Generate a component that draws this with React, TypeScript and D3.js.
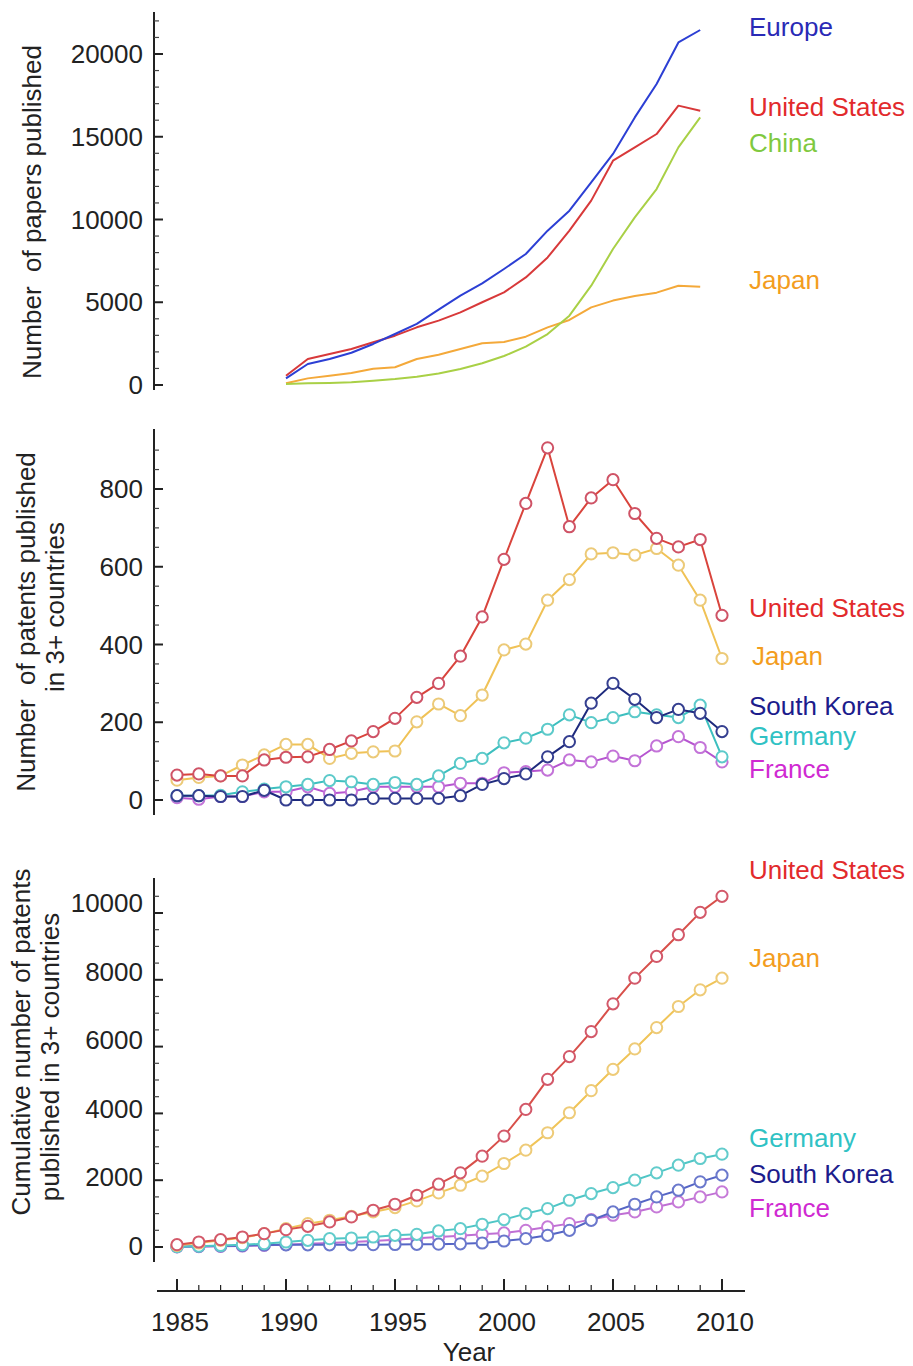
import React from 'react';
import * as d3 from 'd3';

// ---------- data ----------
const paperYears = [1990, 1991, 1992, 1993, 1994, 1995, 1996, 1997, 1998, 1999, 2000, 2001, 2002, 2003, 2004, 2005, 2006, 2007, 2008, 2009];
const papersEurope = [400, 1270, 1570, 1950, 2480, 3080, 3690, 4550, 5400, 6140, 7010, 7915, 9325, 10530, 12245, 13960, 16170, 18185, 20700, 21450];
const papersUS = [560, 1570, 1870, 2175, 2580, 2980, 3485, 3890, 4390, 5000, 5600, 6500, 7710, 9325, 11140, 13555, 14360, 15165, 16880, 16575];
const papersChina = [60, 100, 120, 160, 260, 360, 500, 700, 970, 1310, 1750, 2315, 3080, 4190, 6000, 8215, 10130, 11840, 14360, 16170];
const papersJapan = [100, 400, 560, 725, 985, 1070, 1570, 1830, 2175, 2520, 2600, 2920, 3485, 3930, 4690, 5100, 5380, 5580, 6000, 5940];

const patentYears = [1985, 1986, 1987, 1988, 1989, 1990, 1991, 1992, 1993, 1994, 1995, 1996, 1997, 1998, 1999, 2000, 2001, 2002, 2003, 2004, 2005, 2006, 2007, 2008, 2009, 2010];
const patUS = [64, 67, 62, 62, 103, 110, 111, 130, 152, 176, 210, 264, 300, 370, 471, 619, 763, 906, 703, 777, 824, 737, 673, 651, 670, 475];
const patJapan = [51, 58, 62, 90, 116, 143, 143, 107, 120, 124, 126, 201, 247, 217, 270, 386, 401, 514, 567, 633, 636, 630, 647, 604, 514, 364];
const patGermany = [11, 11, 12, 21, 28, 34, 40, 50, 47, 40, 45, 40, 62, 94, 107, 147, 159, 182, 219, 199, 212, 227, 219, 212, 244, 111];
const patKorea = [11, 11, 9, 9, 25, 0, 0, 0, 0, 4, 4, 4, 4, 11, 40, 55, 67, 111, 150, 249, 300, 259, 212, 233, 223, 176];
const patFrance = [6, 2, 9, 9, 21, 21, 34, 17, 21, 34, 34, 34, 34, 43, 43, 70, 73, 77, 103, 98, 113, 101, 139, 163, 135, 98];

const cumUS = [70, 150, 220, 300, 400, 520, 620, 750, 900, 1100, 1280, 1550, 1880, 2220, 2720, 3320, 4120, 5020, 5700, 6450, 7280, 8050, 8700, 9350, 10020, 10500];
const cumJapan = [50, 120, 200, 280, 400, 550, 700, 800, 920, 1050, 1180, 1380, 1620, 1850, 2120, 2500, 2900, 3420, 4020, 4680, 5320, 5930, 6570, 7200, 7700, 8050];
const cumGermany = [11, 25, 45, 70, 100, 150, 200, 250, 270, 300, 350, 380, 480, 550, 680, 820, 1000, 1150, 1400, 1600, 1780, 2000, 2220, 2450, 2650, 2780];
const cumKorea = [11, 20, 30, 40, 60, 65, 65, 65, 65, 70, 75, 80, 85, 95, 120, 180, 250, 350, 500, 800, 1050, 1280, 1500, 1700, 1950, 2150];
const cumFrance = [6, 10, 20, 30, 50, 70, 100, 120, 150, 180, 220, 260, 300, 340, 380, 420, 500, 600, 700, 820, 950, 1050, 1200, 1350, 1500, 1650];

const xTickYears = [1985, 1990, 1995, 2000, 2005, 2010];
const topTicks = [0, 5000, 10000, 15000, 20000];
const midTicks = [0, 200, 400, 600, 800];
const botTicks = [0, 2000, 4000, 6000, 8000, 10000];

const FONT = "'Liberation Sans', Arial, Helvetica, sans-serif";

// ---------- scales ----------
const x = d3.scaleLinear().domain([1985, 2010]).range([177, 722]);
const yTop = d3.scaleLinear().domain([0, 20000]).range([385, 54]);
const yMid = d3.scaleLinear().domain([0, 800]).range([800, 489]);
const yBot = d3.scaleLinear().domain([0, 10000]).range([1247, 913]);
const yBotLabel = d3.scaleLinear().domain([0, 10000]).range([1246, 903]);

const AXIS_X = 154;

type Series = { name: string; years: number[]; values: number[]; line: string; mark?: string; label: string; ly: number; lx?: number };

const topSeries: Series[] = [
  { name: 'Japan', years: paperYears, values: papersJapan, line: '#f4a93a', label: '#f39d1e', ly: 280 },
  { name: 'China', years: paperYears, values: papersChina, line: '#a9d046', label: '#7fc940', ly: 143 },
  { name: 'United States', years: paperYears, values: papersUS, line: '#d8393a', label: '#e22a2c', ly: 107 },
  { name: 'Europe', years: paperYears, values: papersEurope, line: '#2c3fd4', label: '#2a2ab6', ly: 27 },
];

const midSeries: Series[] = [
  { name: 'France', years: patentYears, values: patFrance, line: '#b655d0', mark: '#c373d8', label: '#d02ad2', ly: 769 },
  { name: 'Germany', years: patentYears, values: patGermany, line: '#3dbfbf', mark: '#5ccaca', label: '#30c2c4', ly: 736 },
  { name: 'South Korea', years: patentYears, values: patKorea, line: '#1e2a7d', mark: '#353f90', label: '#1c1c8c', ly: 706 },
  { name: 'Japan', years: patentYears, values: patJapan, line: '#f0c256', mark: '#ecca78', label: '#f39d1e', ly: 656, lx: 752 },
  { name: 'United States', years: patentYears, values: patUS, line: '#d9443c', mark: '#cf5366', label: '#e22a2c', ly: 608 },
];

const botSeries: Series[] = [
  { name: 'France', years: patentYears, values: cumFrance, line: '#bf6fd4', mark: '#c67ad8', label: '#d02ad2', ly: 1208 },
  { name: 'South Korea', years: patentYears, values: cumKorea, line: '#5565c5', mark: '#6a78cc', label: '#1c1c8c', ly: 1174 },
  { name: 'Germany', years: patentYears, values: cumGermany, line: '#4fc6c6', mark: '#62cccc', label: '#30c2c4', ly: 1138 },
  { name: 'Japan', years: patentYears, values: cumJapan, line: '#f0c458', mark: '#eecb78', label: '#f39d1e', ly: 958 },
  { name: 'United States', years: patentYears, values: cumUS, line: '#d8504a', mark: '#d3596a', label: '#e22a2c', ly: 870 },
];

function YAxis({ y, top, bottom, major, minorStep, minorMax, labelScale }: { y: d3.ScaleLinear<number, number>; top: number; bottom: number; major: number[]; minorStep: number; minorMax: number; labelScale?: d3.ScaleLinear<number, number> }) {
  const minors = d3.range(0, minorMax + 1, minorStep).filter((v) => !major.includes(v));
  const ls = labelScale || y;
  return (
    <g>
      <line x1={AXIS_X} x2={AXIS_X} y1={top} y2={bottom} stroke="#222" strokeWidth={2} />
      {major.map((v) => (
        <line key={'M' + v} x1={AXIS_X} x2={AXIS_X + 9} y1={y(v)} y2={y(v)} stroke="#222" strokeWidth={2} />
      ))}
      {minors.map((v) => (
        <line key={'m' + v} x1={AXIS_X} x2={AXIS_X + 5} y1={y(v)} y2={y(v)} stroke="#444" strokeWidth={1.2} />
      ))}
      {major.map((v) => (
        <text key={'t' + v} x={143} y={ls(v)} textAnchor="end" dominantBaseline="central" fontSize={26} fontFamily={FONT} fill="#222">
          {v}
        </text>
      ))}
    </g>
  );
}

function Lines({ series, y, markers }: { series: Series[]; y: d3.ScaleLinear<number, number>; markers: boolean }) {
  const gen = d3
    .line<[number, number]>()
    .x((d) => x(d[0]))
    .y((d) => y(d[1]));
  return (
    <g>
      {series.map((s) => {
        const pts: [number, number][] = s.years.map((yr, i) => [yr, s.values[i]]);
        return (
          <g key={s.name}>
            <path d={gen(pts) || ''} fill="none" stroke={s.line} strokeWidth={2} strokeLinejoin="round" />
            {markers &&
              pts.map((p, i) => (
                <circle key={i} cx={x(p[0])} cy={y(p[1])} r={5.6} fill="#fff" stroke={s.mark} strokeWidth={2} />
              ))}
          </g>
        );
      })}
      {series.map((s) => (
        <text key={'l' + s.name} x={s.lx ?? 749} y={s.ly} dominantBaseline="central" fontSize={26} fontFamily={FONT} fill={s.label}>
          {s.name}
        </text>
      ))}
    </g>
  );
}

export default function App() {
  const allYears = patentYears;
  return (
    <svg width={913} height={1366} style={{ position: 'absolute', left: 0, top: 0, background: '#fff' }} xmlns="http://www.w3.org/2000/svg">
      <rect x={0} y={0} width={913} height={1366} fill="#fff" />

      {/* top panel */}
      <YAxis y={yTop} top={12} bottom={390} major={topTicks} minorStep={1000} minorMax={22000} />
      <text transform="translate(32,212) rotate(-90)" textAnchor="middle" dominantBaseline="central" fontSize={26} fontFamily={FONT} fill="#222" style={{ whiteSpace: 'pre' }}>
        {'Number  of papers published'}
      </text>
      <Lines series={topSeries} y={yTop} markers={false} />

      {/* middle panel */}
      <YAxis y={yMid} top={429} bottom={815} major={midTicks} minorStep={50} minorMax={900} />
      <text transform="translate(26,622) rotate(-90)" textAnchor="middle" dominantBaseline="central" fontSize={26} fontFamily={FONT} fill="#222" style={{ whiteSpace: 'pre' }}>
        {'Number  of patents published'}
      </text>
      <text transform="translate(55,607) rotate(-90)" textAnchor="middle" dominantBaseline="central" fontSize={26} fontFamily={FONT} fill="#222">
        in 3+ countries
      </text>
      <Lines series={midSeries} y={yMid} markers={true} />

      {/* bottom panel */}
      <YAxis y={yBot} top={878} bottom={1262} major={botTicks} minorStep={500} minorMax={10500} labelScale={yBotLabel} />
      <text transform="translate(21,1042) rotate(-90)" textAnchor="middle" dominantBaseline="central" fontSize={26} fontFamily={FONT} fill="#222">
        Cumulative number of patents
      </text>
      <text transform="translate(50,1057) rotate(-90)" textAnchor="middle" dominantBaseline="central" fontSize={26} fontFamily={FONT} fill="#222">
        published in 3+ countries
      </text>
      <Lines series={botSeries} y={yBot} markers={true} />

      {/* x axis */}
      <g>
        <line x1={157} x2={745} y1={1291} y2={1291} stroke="#222" strokeWidth={2} />
        {allYears.map((yr) => {
          const major = xTickYears.includes(yr);
          return <line key={yr} x1={x(yr)} x2={x(yr)} y1={1291} y2={1291 - (major ? 12 : 6)} stroke="#222" strokeWidth={major ? 2 : 1.2} />;
        })}
        {xTickYears.map((yr) => (
          <text key={'xl' + yr} x={x(yr) + 3} y={1322} textAnchor="middle" dominantBaseline="central" fontSize={26} fontFamily={FONT} fill="#222">
            {yr}
          </text>
        ))}
        <text x={469} y={1352} textAnchor="middle" dominantBaseline="central" fontSize={26} fontFamily={FONT} fill="#222">
          Year
        </text>
      </g>
    </svg>
  );
}
